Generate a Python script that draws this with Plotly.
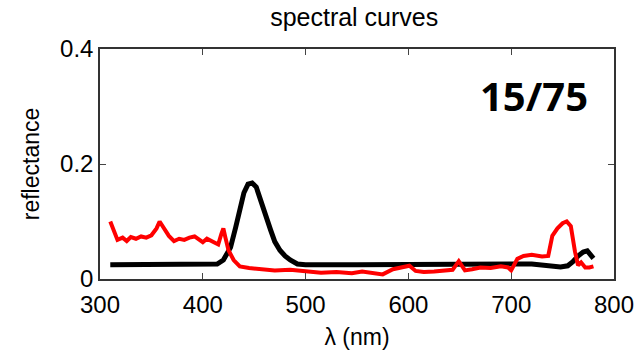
import plotly.graph_objects as go

black_wl = [310, 350, 400, 414, 420, 427, 432, 436, 440, 444, 448, 452, 456, 461, 466, 470, 475,
            480, 485, 492, 500, 550, 600, 650, 700, 720, 736, 748, 755, 760, 765, 770, 774, 778, 780]
black_r = [0.025, 0.025, 0.025, 0.026, 0.033, 0.055, 0.09, 0.12, 0.15, 0.165, 0.167, 0.16, 0.137,
           0.11, 0.085, 0.065, 0.05, 0.04, 0.033, 0.026, 0.025, 0.025, 0.026, 0.027, 0.026, 0.026,
           0.024, 0.021, 0.023, 0.03, 0.04, 0.047, 0.049, 0.042, 0.036]

red_wl = [310, 313, 317, 322, 326, 330, 335, 340, 345, 350, 355, 358, 362, 367, 372, 377, 382, 387,
          392, 396, 400, 404, 408, 412, 415, 418, 420, 422, 425, 430, 436, 445, 455, 470, 485, 500,
          515, 530, 545, 555, 565, 575, 585, 595, 601, 607, 615, 625, 635, 643, 649, 655, 662, 670,
          680, 690, 697, 700, 706, 712, 720, 730, 736, 740, 745, 750, 754, 758, 762, 765, 768, 772,
          776, 780]
red_r = [0.100, 0.085, 0.068, 0.072, 0.066, 0.073, 0.070, 0.074, 0.072, 0.076, 0.088, 0.100, 0.088,
         0.075, 0.066, 0.070, 0.068, 0.072, 0.074, 0.069, 0.064, 0.070, 0.066, 0.063, 0.060, 0.078,
         0.088, 0.072, 0.050, 0.033, 0.022, 0.019, 0.017, 0.015, 0.016, 0.014, 0.011, 0.012, 0.010,
         0.013, 0.010, 0.008, 0.017, 0.020, 0.023, 0.014, 0.012, 0.013, 0.015, 0.016, 0.031, 0.015,
         0.017, 0.020, 0.019, 0.022, 0.020, 0.015, 0.035, 0.040, 0.042, 0.039, 0.040, 0.075, 0.088,
         0.097, 0.100, 0.092, 0.048, 0.024, 0.029, 0.020, 0.020, 0.022]

x_ticks = [300, 400, 500, 600, 700, 800]
y_ticks = [0, 0.2, 0.4]
y_tick_labels = ["0", "0.2", "0.4"]

fig = go.Figure()
fig.add_trace(go.Scatter(x=black_wl, y=black_r, mode="lines",
                         line=dict(color="black", width=5), showlegend=False))
fig.add_trace(go.Scatter(x=red_wl, y=red_r, mode="lines",
                         line=dict(color="#ff0000", width=4), showlegend=False))

FONT = "Liberation Sans, Arial, sans-serif"
axis_font = dict(family=FONT, size=24, color="black")
fig.update_layout(
    width=644, height=354,
    margin=dict(l=100, r=30, t=49, b=75),
    paper_bgcolor="white", plot_bgcolor="white",
    title=dict(text="spectral curves", x=0.55, xanchor="center", y=0.95, yanchor="middle",
               font=dict(family=FONT, size=25, color="black")),
    xaxis=dict(range=[300, 800], tickvals=x_ticks, ticks="inside", ticklen=6,
               showline=True, linecolor="#333", linewidth=1.5, mirror="allticks",
               showgrid=False, zeroline=False, tickfont=axis_font, ticklabelstandoff=3,
               automargin=False,
               title=dict(text="λ (nm)", font=dict(family=FONT, size=23, color="black"),
                          standoff=12)),
    yaxis=dict(range=[0, 0.4], tickvals=y_ticks, ticktext=y_tick_labels, ticks="inside", ticklen=6,
               showline=True, linecolor="#333", linewidth=1.5, mirror="allticks",
               showgrid=False, zeroline=False, tickfont=axis_font, automargin=False,
               title=dict(text="reflectance", font=dict(family=FONT, size=23, color="black"),
                          standoff=14)),
    annotations=[dict(text="<b>15/75</b>", x=0.845, y=0.8, xref="paper", yref="paper",
                      xanchor="center", yanchor="middle", showarrow=False,
                      font=dict(family="Open Sans, sans-serif", size=40, color="black"))],
)

fig.write_html("out.html")
